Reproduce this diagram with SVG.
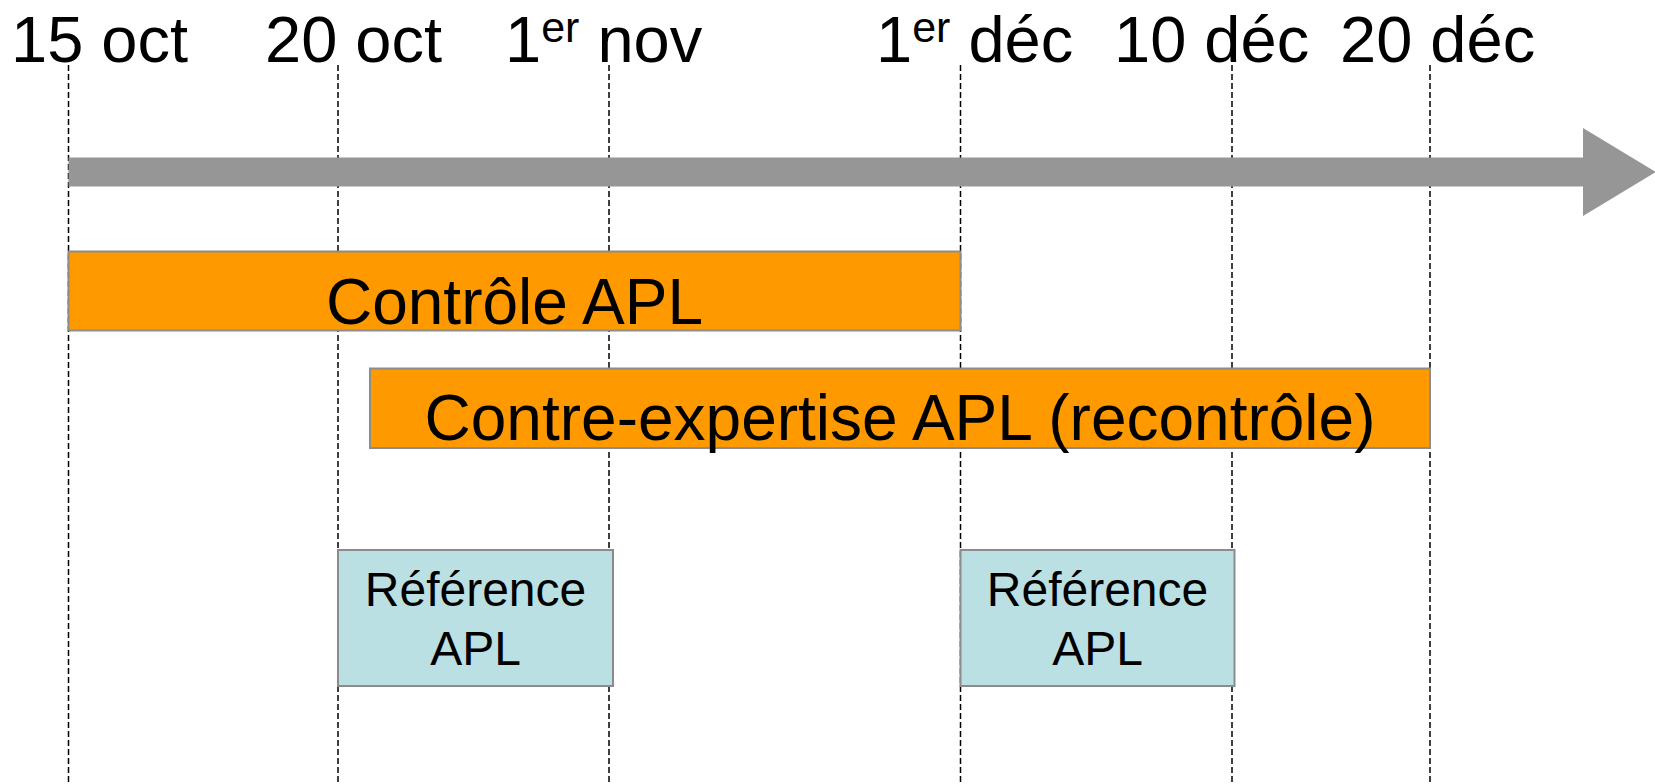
<svg xmlns="http://www.w3.org/2000/svg" width="1655" height="784" viewBox="0 0 1655 784">
<style>
text{font-family:"Liberation Sans",Arial,sans-serif;fill:#000}
.date{font-size:65px}
.sup{font-size:43px}
.guide{stroke:#000;stroke-width:1.5;stroke-dasharray:6 3;fill:none}
.bar{fill:#FF9900;stroke:#8C8C8C;stroke-width:2}
.ref{fill:#BBE0E3;stroke:#8C8C8C;stroke-width:2}
.big{font-size:64px;text-anchor:middle}
.mid{font-size:48px;text-anchor:middle}
</style>
<rect width="1655" height="784" fill="#fff"/>
<g id="guides">
<line class="guide" x1="68.5" y1="65" x2="68.5" y2="784"/>
<line class="guide" x1="338" y1="65" x2="338" y2="784"/>
<line class="guide" x1="609" y1="65" x2="609" y2="784"/>
<line class="guide" x1="960.5" y1="65" x2="960.5" y2="784"/>
<line class="guide" x1="1232" y1="65" x2="1232" y2="784"/>
<line class="guide" x1="1430" y1="65" x2="1430" y2="784"/>
</g>
<g id="labels">
<text class="date" x="11" y="62">15 oct</text>
<text class="date" x="265" y="62">20 oct</text>
<text class="date" x="505" y="62">1<tspan class="sup" dy="-20">er</tspan><tspan dy="20"> nov</tspan></text>
<text class="date" x="876" y="62">1<tspan class="sup" dy="-20">er</tspan><tspan dy="20"> déc</tspan></text>
<text class="date" x="1114" y="62">10 déc</text>
<text class="date" x="1340" y="62">20 déc</text>
</g>
<g id="timeline">
<polygon points="68.5,157.5 1583,157.5 1583,128 1656,172 1583,216 1583,186.5 68.5,186.5" fill="#969696"/>
</g>
<g id="controle">
<rect class="bar" x="68.5" y="251.5" width="892" height="79"/>
<text class="big" x="514.5" y="324">Contrôle APL</text>
</g>
<g id="contre-expertise">
<rect class="bar" x="370" y="368.5" width="1060" height="79.5"/>
<text class="big" x="900" y="440">Contre-expertise APL (recontrôle)</text>
</g>
<g id="reference1">
<rect class="ref" x="338" y="550" width="275" height="136"/>
<text class="mid" x="475.5" y="606">Référence</text>
<text class="mid" x="475.5" y="665">APL</text>
</g>
<g id="reference2">
<rect class="ref" x="960.5" y="550" width="274" height="136"/>
<text class="mid" x="1097.5" y="606">Référence</text>
<text class="mid" x="1097.5" y="665">APL</text>
</g>
<g id="connectors"></g>
</svg>
